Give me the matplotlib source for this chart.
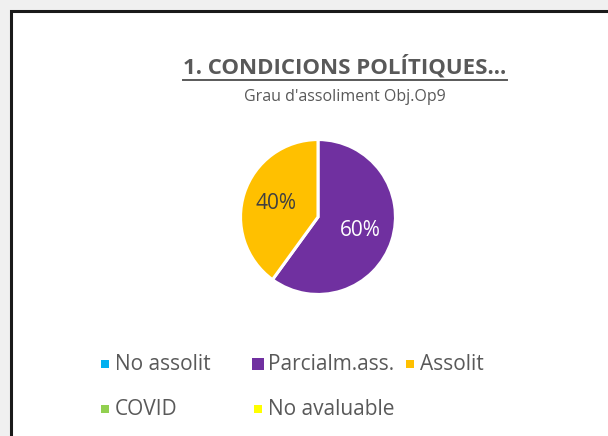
import matplotlib
matplotlib.use("Agg")
import matplotlib.pyplot as plt
from matplotlib.patches import Rectangle

categories = ["No assolit", "Parcialm.ass.", "Assolit", "COVID", "No avaluable"]
values = [0, 60, 40, 0, 0]
colors = ["#00B0F0", "#7030A0", "#FFC000", "#92D050", "#FFFF00"]
label_colors = ["#404040", "#FFFFFF", "#404040", "#404040", "#404040"]
title = "1. CONDICIONS POLÍTIQUES..."
subtitle = "Grau d'assoliment Obj.Op9"

W, H = 608, 436
plt.rcParams['font.family'] = ['Open Sans', 'DejaVu Sans']
fig = plt.figure(figsize=(W / 100, H / 100), dpi=100)
fig.patch.set_facecolor("#F0F0F0")

def fx(x):
    return x / W

def fy(y):
    return 1 - y / H

# chart area with black border
fig.patches.append(Rectangle((fx(11), fy(H + 20)), (W + 20 - 11) / W, (H + 20 - 11) / H,
                             transform=fig.transFigure, facecolor="white",
                             edgecolor="#1a1a1a", linewidth=2.2, zorder=-5))

# title with underline
t = fig.text(fx(345), fy(67), title, ha="center", va="center", fontsize=16,
             fontweight="bold", color="#595959")
fig.canvas.draw()
bb = t.get_window_extent()
fig.add_artist(plt.Line2D([bb.x0 / W, bb.x1 / W], [fy(80), fy(80)],
                          transform=fig.transFigure, color="#595959", linewidth=1.4))
fig.text(fx(345), fy(97), subtitle, ha="center", va="center", fontsize=11.5,
         color="#595959")

# pie
cx, cy, r = 318, 217, 79
ax = fig.add_axes([fx(cx - r), fy(cy + r), 2 * r / W, 2 * r / H], zorder=2)
nz = [i for i, v in enumerate(values) if v > 0]
wedges, texts, autotexts = ax.pie([values[i] for i in nz], colors=[colors[i] for i in nz],
                                  startangle=90, counterclock=False,
                                  autopct=lambda p: f"{p:.0f}%", pctdistance=0.57,
                                  wedgeprops=dict(edgecolor="white", linewidth=2.2),
                                  textprops=dict(fontsize=15))
for at, i in zip(autotexts, nz):
    at.set_color(label_colors[i])
ax.set_xlim(-1.02, 1.02)
ax.set_ylim(-1.02, 1.02)
ax.set_aspect("equal")
ax.axis("off")

# legend
x_starts = [100, 253, 405]
y_rows = [364, 409]
for i, (lab, col) in enumerate(zip(categories, colors)):
    row, c = divmod(i, 3)
    x = x_starts[c]
    y = y_rows[row]
    sq = 12 if i == 1 else 8
    fig.patches.append(Rectangle((fx(x + (8 - sq) / 2 + 1), fy(y + sq / 2)), sq / W, sq / H,
                                 transform=fig.transFigure, facecolor=col,
                                 edgecolor="none", zorder=3))
    fig.text(fx(x + 15), fy(y), lab, ha="left", va="center", fontsize=15,
             color="#595959")

fig.savefig("out.png", dpi=100, facecolor=fig.get_facecolor())
